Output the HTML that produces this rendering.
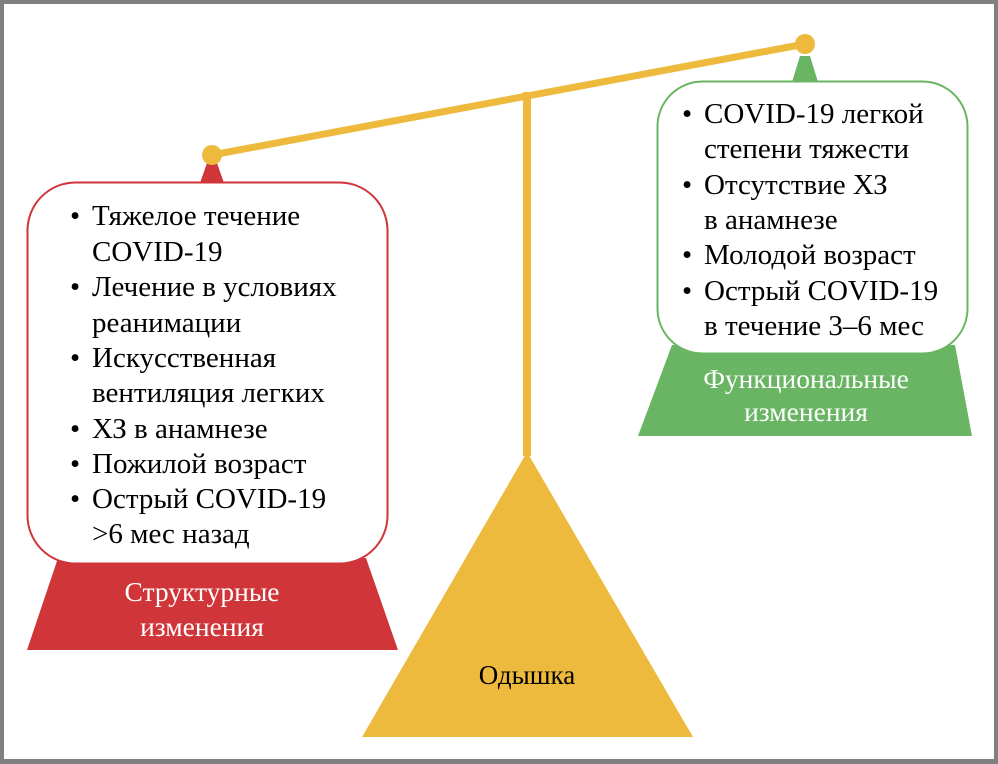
<!DOCTYPE html>
<html><head><meta charset="utf-8"><style>
html,body{margin:0;padding:0;background:#fff}
svg{display:block}
text{font-family:"Liberation Serif",serif}
</style></head><body>
<svg width="998" height="764" viewBox="0 0 998 764">
<rect x="0" y="0" width="998" height="764" fill="#808080"/>
<rect x="4" y="4" width="990" height="755" fill="#fff"/>
<polygon points="527,452 362,737 693,737" fill="#EDBA3E"/>
<text x="527" y="684" font-size="27" text-anchor="middle" fill="#000">Одышка</text>
<rect x="523" y="92" width="8" height="364" fill="#EDBA3E"/>
<polygon points="58,558 366,558 398,650 27,650" fill="#CF3539"/>
<polygon points="207,163 217,163 224,183 200,183" fill="#CF3539"/>
<rect x="27.5" y="182.5" width="360" height="381" rx="48" fill="#fff" stroke="#CF3539" stroke-width="2"/>
<text x="202" y="601" font-size="27.5" text-anchor="middle" fill="#fff">Структурные</text>
<text x="202" y="636" font-size="27.5" text-anchor="middle" fill="#fff">изменения</text>
<g font-size="29" fill="#000">
<text x="70" y="225">•</text><text x="92" y="225">Тяжелое течение</text>
<text x="92" y="261">COVID-19</text>
<text x="70" y="296">•</text><text x="92" y="296">Лечение в условиях</text>
<text x="92" y="332">реанимации</text>
<text x="70" y="367">•</text><text x="92" y="367">Искусственная</text>
<text x="92" y="402">вентиляция легких</text>
<text x="70" y="438">•</text><text x="92" y="438">ХЗ в анамнезе</text>
<text x="70" y="473">•</text><text x="92" y="473">Пожилой возраст</text>
<text x="70" y="508">•</text><text x="92" y="508">Острый COVID-19</text>
<text x="92" y="543">&gt;6 мес назад</text>
</g>
<polygon points="672,345 955,345 972,436 638,436" fill="#69B563"/>
<polygon points="800,56 810,56 818,82 792,82" fill="#69B563"/>
<rect x="657.5" y="81.5" width="310" height="272" rx="45" fill="#fff" stroke="#69B563" stroke-width="2"/>
<text x="806" y="388" font-size="27.5" text-anchor="middle" fill="#fff">Функциональные</text>
<text x="806" y="421" font-size="27.5" text-anchor="middle" fill="#fff">изменения</text>
<g font-size="29" fill="#000">
<text x="682" y="123">•</text><text x="704" y="123">COVID-19 легкой</text>
<text x="704" y="158">степени тяжести</text>
<text x="682" y="194">•</text><text x="704" y="194">Отсутствие ХЗ</text>
<text x="704" y="229">в анамнезе</text>
<text x="682" y="264">•</text><text x="704" y="264">Молодой возраст</text>
<text x="682" y="300">•</text><text x="704" y="300">Острый COVID-19</text>
<text x="704" y="335">в течение 3–6 мес</text>
</g>
<line x1="212" y1="155" x2="805" y2="44" stroke="#EDBA3E" stroke-width="7"/>
<circle cx="212" cy="155" r="10" fill="#EDBA3E"/>
<circle cx="805" cy="44" r="10" fill="#EDBA3E"/>
</svg>
</body></html>
